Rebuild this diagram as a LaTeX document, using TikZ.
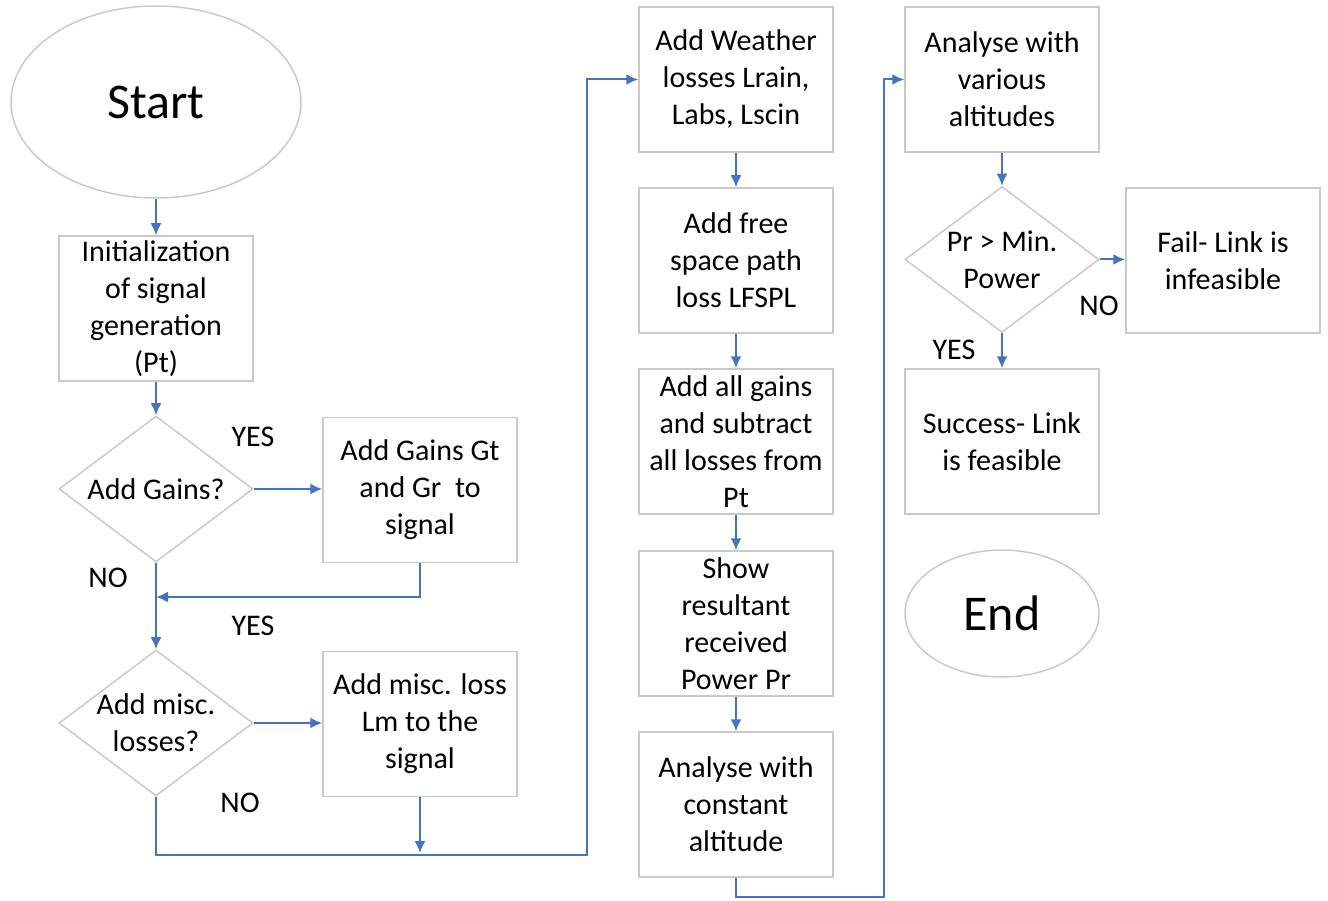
\documentclass[tikz,border=0pt]{standalone}
\usepackage{fontspec}
\setmainfont{Carlito}
\usetikzlibrary{shapes.geometric, arrows.meta}
\definecolor{flowblue}{HTML}{4472C4}
\definecolor{boxgray}{HTML}{C9C9C9}
\begin{document}
\begin{tikzpicture}[x=1pt, y=-1pt, >={Latex[length=12pt, width=11pt]},
    every node/.style={font=\fontsize{30}{37}\selectfont},
    box/.style={draw=boxgray, line width=1.5pt, minimum width=194pt, minimum height=145pt, inner sep=0pt, align=center},
    decision/.style={draw=boxgray, line width=1.5pt, diamond, minimum width=194pt, minimum height=146pt, inner sep=0pt},
    terminal/.style={draw=boxgray, line width=1.5pt, ellipse, inner sep=0pt, font=\fontsize{50}{60}\selectfont},
    flow/.style={draw=flowblue, line width=2pt}]
    \useasboundingbox (0,0) rectangle (1328,901);

    % 1. Cột bên trái
    \node[terminal, minimum width=290pt, minimum height=192pt] (start) at (156,102) {Start};
    \node[box] (init) at (156,308.5) {Initialization\\of signal\\generation\\(Pt)};
    \node[decision, label={[align=center]center:Add Gains?}] (gainsq) at (156,489) {};
    \node[box] (gains) at (420,490) {Add Gains Gt\\and Gr\ \ to\\signal};
    \node[decision, label={[align=center]center:Add misc.\\losses?}] (miscq) at (156,723) {};
    \node[box] (misc) at (420,724) {Add misc. loss\\Lm to the\\signal};

    % 2. Cột giữa
    \node[box] (weather) at (736,79.5) {Add Weather\\losses Lrain,\\Labs, Lscin};
    \node[box] (fspl) at (736,260.5) {Add free\\space path\\loss LFSPL};
    \node[box] (sum) at (736,441.5) {Add all gains\\and subtract\\all losses from\\Pt};
    \node[box] (power) at (736,623.5) {Show\\resultant\\received\\Power Pr};
    \node[box] (const) at (736,804.5) {Analyse with\\constant\\altitude};

    % 3. Cột bên phải
    \node[box] (various) at (1002,79.5) {Analyse with\\various\\altitudes};
    \node[decision, label={[align=center]center:Pr > Min.\\Power}] (prq) at (1002,259.5) {};
    \node[box] (fail) at (1223,260.5) {Fail- Link is\\infeasible};
    \node[box] (success) at (1002,441.5) {Success- Link\\is feasible};
    \node[terminal, minimum width=194pt, minimum height=127pt] (end) at (1002,613.5) {End};

    % Nhãn YES / NO
    \node (yes1) at (253,437) {YES};
    \node (no1) at (108,578) {NO};
    \node (yes2) at (253,626) {YES};
    \node (no2) at (240,803) {NO};
    \node (no3) at (1099,306) {NO};
    \node (yes3) at (954,350) {YES};

    % Các điểm gấp khúc
    \coordinate (join1) at (156,597);
    \coordinate (join2) at (420,853);
    \coordinate (turn1) at (587,855);
    \coordinate (turn2) at (884,897);

    % 4. Các mũi tên
    \draw[flow, ->] (start) -- (init);
    \draw[flow, ->] (init) -- (gainsq);
    \draw[flow, ->] (gainsq) -- (gains.west |- gainsq);
    \draw[flow, ->] (gains.south) |- (join1);
    \draw[flow, ->] (gainsq) -- (miscq);
    \draw[flow, ->] (miscq) -- (misc.west |- miscq);
    \draw[flow, ->] (misc) -- (join2);
    \draw[flow, ->] (miscq.south) |- (turn1) |- (weather.west);

    \draw[flow, ->] (weather) -- (fspl);
    \draw[flow, ->] (fspl) -- (sum);
    \draw[flow, ->] (sum) -- (power);
    \draw[flow, ->] (power) -- (const);
    \draw[flow, ->] (const.south) |- (turn2) |- (various.west);

    \draw[flow, ->] (various) -- (prq);
    \draw[flow, ->] (prq) -- (fail.west |- prq);
    \draw[flow, ->] (prq) -- (success);

\end{tikzpicture}
\end{document}
